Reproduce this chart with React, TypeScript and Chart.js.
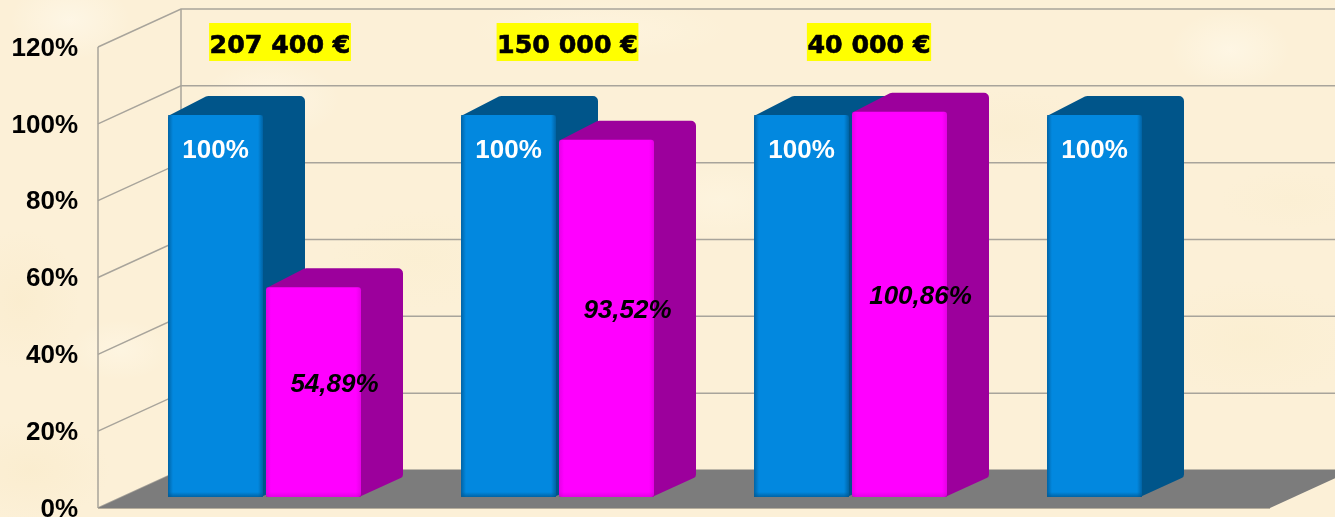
import React, { useEffect, useRef } from "react";
import { Chart, registerables } from "chart.js";

Chart.register(...registerables);

const categories = ["A", "B", "C", "D"];
const referenceValues = [100, 100, 100, 100];
const actualValues: (number | null)[] = [54.89, 93.52, 100.86, null];
const referenceLabels = ["100%", "100%", "100%", "100%"];
const actualLabels = ["54,89%", "93,52%", "100,86%", ""];
const amountLabels = ["207 400 €", "150 000 €", "40 000 €", ""];

const FONT = '"Liberation Sans", Arial, sans-serif';
const DEPTH_X = 83;
const DEPTH_Y = 38;
const BAR_DEPTH_X = 42;
const BAR_DEPTH_Y = 19;
const BAR_SHIFT_X = 20;
const AMOUNT_NUDGE = [15.5, 10, 18.5, 0];

function roundedPoly(ctx: CanvasRenderingContext2D, pts: number[][]) {
  ctx.beginPath();
  const n = pts.length;
  const m = [(pts[n - 1][0] + pts[0][0]) / 2, (pts[n - 1][1] + pts[0][1]) / 2];
  ctx.moveTo(m[0], m[1]);
  for (let i = 0; i < n; i++) {
    const a = pts[i];
    const b = pts[(i + 1) % n];
    ctx.arcTo(a[0], a[1], b[0], b[1], a[2]);
  }
  ctx.closePath();
}

function drawDepth(ctx: CanvasRenderingContext2D, el: any, color: string) {
  const { x, y, base, width } = el.getProps(["x", "y", "base", "width"], true);
  const l = x - width / 2;
  const r = x + width / 2;
  const dx = BAR_DEPTH_X;
  const dy = BAR_DEPTH_Y;
  ctx.fillStyle = color;
  roundedPoly(ctx, [
    [l, y + 1, 0],
    [l + dx - 3, y - dy, 5],
    [r + dx, y - dy, 5],
    [r + dx, base - dy - 1, 4],
    [r - 2, base, 0],
    [r - 2, y + 1, 0],
  ]);
  ctx.fill();
}

function drawBevel(ctx: CanvasRenderingContext2D, el: any, st: any) {
  const { x, y, base, width } = el.getProps(["x", "y", "base", "width"], true);
  const l = x - width / 2;
  const r = x + width / 2;
  const band = (x0: number, y0: number, x1: number, y1: number, rx: number, ry: number, rw: number, rh: number) => {
    const g = ctx.createLinearGradient(x0, y0, x1, y1);
    g.addColorStop(0, st.edge);
    g.addColorStop(1, st.clear);
    ctx.fillStyle = g;
    ctx.fillRect(rx, ry, rw, rh);
  };
  band(l, 0, l + 5, 0, l, y, 5, base - y);
  band(r, 0, r - 5, 0, r - 5, y, 5, base - y);
  band(0, base, 0, base - 5, l, base - 5, width, 5);
}

const scene = {
  id: "scene",
  beforeDraw(chart: any) {
    const { ctx, chartArea: a, scales } = chart;
    const y = scales.y;
    const rightEdge = chart.width + 2;
    const y0 = y.getPixelForValue(0);
    const yTop = y.getPixelForValue(120);
    ctx.save();
    ctx.strokeStyle = "#a8a49b";
    ctx.lineWidth = 1.5;
    for (const t of y.ticks) {
      const p = y.getPixelForValue(t.value);
      ctx.beginPath();
      ctx.moveTo(a.left, p);
      ctx.lineTo(a.left + DEPTH_X, p - DEPTH_Y);
      ctx.lineTo(rightEdge, p - DEPTH_Y);
      ctx.stroke();
    }
    ctx.beginPath();
    ctx.moveTo(a.left, yTop);
    ctx.lineTo(a.left, y0);
    ctx.moveTo(a.left + DEPTH_X, yTop - DEPTH_Y);
    ctx.lineTo(a.left + DEPTH_X, y0 - DEPTH_Y);
    ctx.stroke();
    ctx.fillStyle = "#7c7c7c";
    ctx.beginPath();
    ctx.moveTo(a.left, y0);
    ctx.lineTo(a.right, y0);
    ctx.lineTo(a.right + DEPTH_X, y0 - DEPTH_Y);
    ctx.lineTo(a.left + DEPTH_X, y0 - DEPTH_Y);
    ctx.closePath();
    ctx.fill();
    ctx.strokeStyle = "#b5ad9c";
    ctx.lineWidth = 1;
    ctx.beginPath();
    ctx.moveTo(a.left, y0 + 0.5);
    ctx.lineTo(a.right, y0 + 0.5);
    ctx.stroke();
    ctx.restore();
  },
  beforeDatasetsDraw(chart: any) {
    const { ctx } = chart;
    const styles = [
      { side: "#00558a", edge: "rgba(0,90,150,0.8)", clear: "rgba(0,90,150,0)" },
      { side: "#9c009c", edge: "rgba(170,0,170,0.3)", clear: "rgba(170,0,170,0)" },
    ];
    ctx.save();
    ctx.translate(BAR_SHIFT_X, 0);
    [0, 1].forEach((d) => {
      const meta = chart.getDatasetMeta(d);
      const st = styles[d];
      meta.data.forEach((el: any, i: number) => {
        const v = chart.data.datasets[d].data[i];
        if (v == null) return;
        drawDepth(ctx, el, st.side);
      });
      meta.controller.draw();
      meta.data.forEach((el: any, i: number) => {
        const v = chart.data.datasets[d].data[i];
        if (v == null) return;
        drawBevel(ctx, el, st);
      });
    });
    ctx.restore();
    return false;
  },
  afterDraw(chart: any) {
    const { ctx, scales } = chart;
    ctx.save();
    ctx.textAlign = "center";
    ctx.textBaseline = "middle";
    const blue = chart.getDatasetMeta(0);
    const pink = chart.getDatasetMeta(1);
    blue.data.forEach((el: any, i: number) => {
      ctx.font = `bold 26px ${FONT}`;
      ctx.fillStyle = "#ffffff";
      ctx.fillText(referenceLabels[i], el.x + BAR_SHIFT_X, el.y + 36);
    });
    pink.data.forEach((el: any, i: number) => {
      if (!actualLabels[i]) return;
      ctx.font = `italic bold 26px ${FONT}`;
      ctx.fillStyle = "#000000";
      ctx.fillText(
        actualLabels[i],
        el.x + BAR_SHIFT_X + BAR_DEPTH_X / 2,
        (el.y + el.base) / 2 - BAR_DEPTH_Y / 2 + 2
      );
    });
    ctx.font = `bold 25.3px "DejaVu Sans", sans-serif`;
    categories.forEach((_, i) => {
      const text = amountLabels[i];
      if (!text) return;
      const cx = scales.x.getPixelForValue(i) + BAR_SHIFT_X + AMOUNT_NUDGE[i];
      const w = ctx.measureText(text).width + 1;
      ctx.fillStyle = "#ffff00";
      ctx.fillRect(cx - w / 2, 23, w, 38);
      ctx.fillStyle = "#000000";
      ctx.strokeStyle = "#000000";
      ctx.lineWidth = 0.6;
      ctx.fillText(text, cx, 46);
      ctx.strokeText(text, cx, 46);
    });
    ctx.restore();
  },
};

const parchment = [
  "radial-gradient(ellipse 70px 40px at 270px 100px, rgba(255,250,238,0.55), transparent)",
  "radial-gradient(ellipse 60px 40px at 70px 20px, rgba(255,250,238,0.6), transparent)",
  "radial-gradient(ellipse 60px 70px at 20px 300px, rgba(249,234,200,0.5), transparent)",
  "radial-gradient(ellipse 90px 50px at 420px 260px, rgba(250,238,205,0.4), transparent)",
  "radial-gradient(ellipse 80px 40px at 720px 200px, rgba(255,248,230,0.45), transparent)",
  "radial-gradient(ellipse 90px 40px at 1010px 130px, rgba(249,236,204,0.4), transparent)",
  "radial-gradient(ellipse 60px 40px at 1230px 50px, rgba(255,250,236,0.6), transparent)",
  "radial-gradient(ellipse 110px 60px at 1250px 340px, rgba(250,237,204,0.5), transparent)",
  "radial-gradient(ellipse 130px 30px at 600px 30px, rgba(255,248,230,0.45), transparent)",
  "radial-gradient(ellipse 80px 50px at 30px 470px, rgba(249,234,200,0.5), transparent)",
  "radial-gradient(ellipse 50px 30px at 120px 350px, rgba(255,249,234,0.5), transparent)",
  "radial-gradient(ellipse 70px 30px at 1290px 200px, rgba(250,238,208,0.45), transparent)",
].join(",");

export default function App() {
  const ref = useRef<HTMLCanvasElement | null>(null);
  useEffect(() => {
    document.body.style.margin = "0";
    const chart = new Chart(ref.current as HTMLCanvasElement, {
      type: "bar",
      data: {
        labels: categories,
        datasets: [
          {
            label: "Reference",
            data: referenceValues,
            backgroundColor: "#0288df",
            borderRadius: 3,
            borderSkipped: false,
            yAxisID: "yBars",
            categoryPercentage: 196 / 293,
            barPercentage: 95 / 98,
          },
          {
            label: "Actual",
            data: actualValues,
            backgroundColor: "#ff00ff",
            borderRadius: 3,
            borderSkipped: false,
            yAxisID: "yBars",
            categoryPercentage: 196 / 293,
            barPercentage: 95 / 98,
          },
        ],
      } as any,
      options: {
        responsive: false,
        animation: false,
        layout: { padding: { top: 47, bottom: 9, right: 65, left: 0 } },
        plugins: { legend: { display: false }, tooltip: { enabled: false }, title: { display: false } },
        scales: {
          x: { display: false },
          y: {
            position: "left",
            min: 0,
            max: 120,
            grid: { display: false },
            border: { display: false },
            afterFit(s: any) {
              s.width = 98;
              s.paddingTop = 0;
              s.paddingBottom = 0;
              if (!s._labelsLowered) {
                s._labelsLowered = true;
                const compute = s._computeLabelItems;
                s._computeLabelItems = function (area: any) {
                  const items = compute.call(this, area);
                  items.forEach((it: any) => {
                    it.options.translation = [it.options.translation[0], it.options.translation[1] + 1.5];
                  });
                  return items;
                };
              }
            },
            ticks: {
              stepSize: 20,
              padding: 12,
              color: "#000000",
              font: { family: FONT, size: 26, weight: "bold" },
              callback: (v: any) => `${v}%`,
            },
          },
          yBars: { display: false, min: -2.88, max: 117.8 },
        },
      } as any,
      plugins: [scene as any],
    });
    return () => chart.destroy();
  }, []);
  return (
    <div
      style={{
        position: "relative",
        width: 1335,
        height: 517,
        overflow: "hidden",
        backgroundColor: "#fcf0d7",
        backgroundImage: parchment,
      }}
    >
      <canvas
        ref={ref}
        width={1335}
        height={517}
        style={{ display: "block", width: 1335, height: 517, filter: "blur(0.4px)" }}
      />
    </div>
  );
}
